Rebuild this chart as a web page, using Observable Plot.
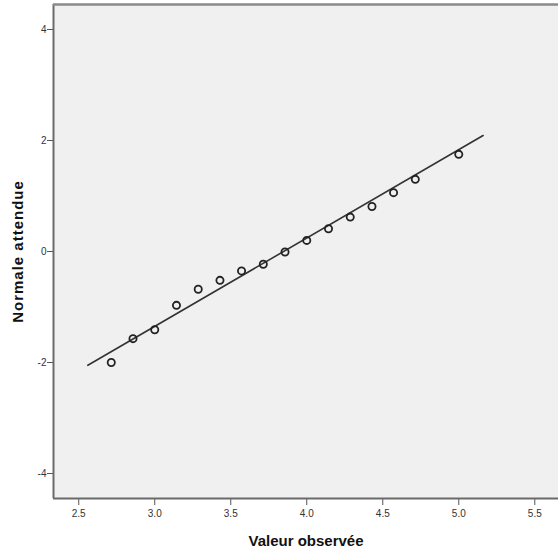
<!DOCTYPE html>
<html><head><meta charset="utf-8">
<script src="https://cdn.jsdelivr.net/npm/d3@7"></script>
<script src="https://cdn.jsdelivr.net/npm/@observablehq/plot@0.6"></script>
<style>
body{margin:0;background:#fff;}
#chart svg{display:block;}
</style>
</head><body><div id="chart"></div>
<script>
const observed = [2.714, 2.857, 3.0, 3.143, 3.286, 3.429, 3.571, 3.714, 3.857, 4.0, 4.143, 4.286, 4.429, 4.571, 4.714, 5.0];
const expected = [-2.00, -1.57, -1.41, -0.97, -0.68, -0.52, -0.35, -0.23, -0.01, 0.20, 0.41, 0.62, 0.81, 1.06, 1.30, 1.75];
const lineX = [2.56, 5.16];
const lineY = [-2.05, 2.09];
const xTicks = [2.5, 3.0, 3.5, 4.0, 4.5, 5.0, 5.5];
const yTicks = [-4, -2, 0, 2, 4];
const xDomain = [2.334, 5.656];
const yDomain = [-4.45, 4.45];

const points = observed.map((x, i) => ({x, y: expected[i]}));
const line = lineX.map((x, i) => ({x, y: lineY[i]}));

const chart = Plot.plot({
  width: 558,
  height: 557,
  marginLeft: 53,
  marginRight: 0,
  marginTop: 4,
  marginBottom: 59,
  style: {fontFamily: "'Liberation Sans', Arial, sans-serif", fontSize: "10px", color: "#333", background: "#fff"},
  x: {domain: xDomain},
  y: {domain: yDomain},
  marks: [
    Plot.frame({fill: "#f0f0f0", stroke: null}),
    Plot.axisX({ticks: xTicks, tickFormat: d => d.toFixed(1), tickSize: 7, tickPadding: 4, stroke: "#555",
      label: "Valeur observée", labelAnchor: "center", labelOffset: 47, labelArrow: "none", fontSize: 10}),
    Plot.axisY({ticks: yTicks, tickFormat: d => String(d), tickSize: 6, tickPadding: 1, stroke: "#555",
      label: "Normale attendue", labelAnchor: "center", labelOffset: 41, labelArrow: "none", fontSize: 10}),
    Plot.ruleX([xDomain[0]], {stroke: "#6a6a6a", strokeWidth: 2}),
    Plot.ruleY([yDomain[0]], {stroke: "#6a6a6a", strokeWidth: 2}),
    Plot.ruleY([yDomain[1]], {stroke: "#8a8a8a", strokeWidth: 2.5}),
    Plot.line(line, {x: "x", y: "y", stroke: "#333", strokeWidth: 1.6}),
    Plot.dot(points, {x: "x", y: "y", r: 3.6, stroke: "#222", strokeWidth: 1.8, fill: "none"})
  ]
});
document.getElementById("chart").append(chart);

// Style axis titles bold like the reference
const svg = d3.select(chart);
svg.selectAll("[aria-label='x-axis label'] text, [aria-label='y-axis label'] text")
  .style("font-weight", "bold");
svg.selectAll("[aria-label='x-axis label'] text")
  .style("font-family", "'Liberation Sans Narrow', 'Liberation Sans', Arial, sans-serif")
  .style("font-size", "15px").style("fill", "#111");
svg.selectAll("[aria-label='y-axis label'] text")
  .style("font-size", "15px").style("letter-spacing", "1px").style("fill", "#111");
</script>
</body></html>
